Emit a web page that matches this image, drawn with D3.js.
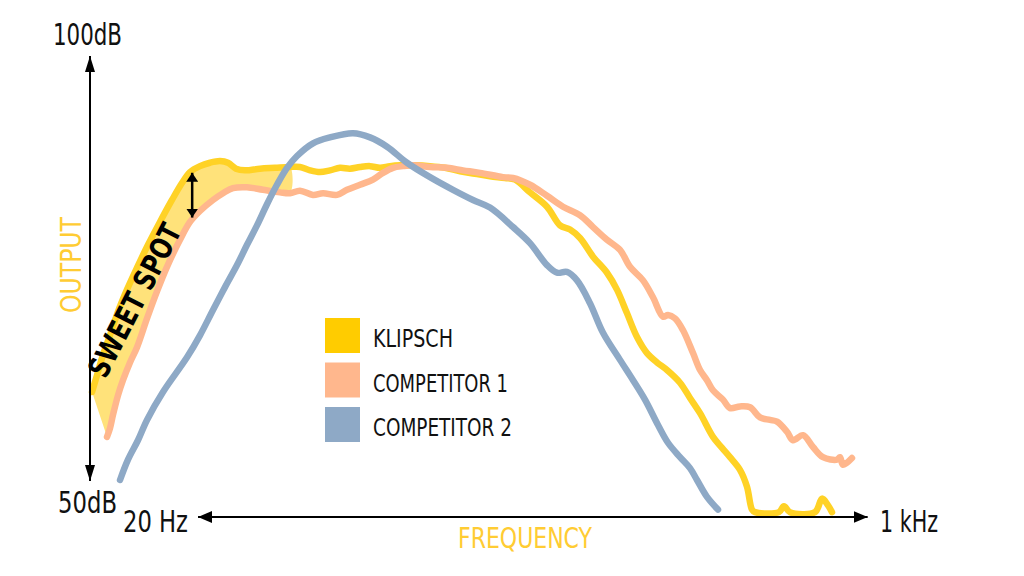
<!DOCTYPE html>
<html>
<head>
<meta charset="utf-8">
<script src="https://cdn.jsdelivr.net/npm/d3@7"></script>
<style>
  html, body { margin: 0; padding: 0; background: #ffffff; }
  svg { display: block; }
  text { font-family: 'Liberation Sans Narrow', 'DejaVu Sans Condensed', 'Roboto', sans-serif; }
</style>
</head>
<body>
<svg id="chart" width="1024" height="576"></svg>
<script>
// ---- Data (x = position across the 20 Hz – 1 kHz band, %; y = output, dB) ----
const seriesNames = ["KLIPSCH", "COMPETITOR 1", "COMPETITOR 2"];
const seriesColors = ["#FFD226", "#FFB78D", "#8EA9C6"];
const legendColors = ["#FFCC00", "#FFB78D", "#8EA9C6"];

const klipschPos = [0.26,0.90,1.67,2.56,3.59,4.74,6.03,7.44,8.97,10.51,11.79,12.82,14.10,15.38,16.67,17.69,18.72,19.87,21.79,23.72,25.64,26.92,28.21,29.49,30.77,32.05,33.33,34.62,35.90,37.18,38.46,39.74,41.67,43.59,45.51,47.44,49.36,51.28,53.21,54.49,56.41,58.59,60.26,61.54,62.82,64.49,66.28,67.56,68.85,70.13,71.41,72.69,73.97,75.64,76.92,78.21,79.87,81.03,82.05,83.33,84.23,84.87,85.26,88.33,88.97,89.74,92.95,93.85,94.62,95.13];
const klipschDb  = [60.4,62.4,64.8,67.1,69.9,72.5,75.1,77.8,80.5,83.1,85.1,86.4,87.1,87.5,87.7,87.5,86.8,86.6,86.8,86.9,87.0,87.0,86.6,86.4,86.6,86.9,86.8,87.0,87.1,86.9,87.1,87.2,87.2,87.1,86.9,86.5,86.2,85.9,85.7,85.5,84.0,82.3,80.1,79.6,78.6,76.4,74.5,72.5,69.7,66.9,65.0,63.9,63.0,61.5,59.7,57.9,55.1,53.8,52.7,51.2,49.2,46.5,46.2,46.2,46.9,46.2,46.2,47.8,47.0,46.2];

const comp1Pos = [2.18,2.56,2.95,3.59,4.23,5.13,6.03,7.31,8.59,9.87,11.54,12.82,14.10,15.77,17.05,18.33,20.13,22.18,24.36,25.64,26.92,28.59,29.87,31.67,32.95,34.62,36.28,37.56,38.85,40.13,41.41,43.59,45.77,47.82,50.00,52.95,54.23,56.41,58.59,60.64,62.82,64.49,66.28,67.95,69.23,70.90,72.18,73.46,74.10,75.00,76.03,77.31,78.21,79.10,79.87,81.15,82.05,83.33,84.62,85.90,87.18,88.08,89.36,90.13,91.41,92.69,93.97,95.77,96.15,96.54,97.69];
const comp1Db  = [55.1,56.1,57.7,60.0,61.8,63.9,65.7,69.1,72.3,75.2,78.4,80.5,81.8,83.1,83.9,84.5,84.6,84.3,84.0,83.9,84.2,83.7,83.9,83.7,84.3,84.9,85.5,86.3,86.9,87.1,87.2,87.0,86.9,86.6,86.3,85.8,85.7,84.9,83.6,82.3,81.3,79.9,78.4,77.2,75.2,73.6,71.6,69.3,69.5,69.1,67.7,65.0,63.0,61.8,60.6,59.5,58.5,58.7,58.6,57.4,57.1,56.9,55.7,54.7,55.3,53.9,52.7,52.4,52.7,51.8,52.6];

const comp2Pos = [3.85,4.87,6.15,7.31,9.36,12.44,14.10,15.77,17.31,18.85,20.13,21.41,22.69,23.97,25.26,26.54,28.59,30.77,33.72,35.90,38.08,40.64,43.59,46.54,49.10,51.28,54.23,56.41,58.59,59.87,61.15,62.44,64.10,65.77,67.95,69.62,71.15,72.82,74.10,75.64,76.92,77.82,79.10,80.51];
const comp2Db  = [50.0,52.4,54.7,57.1,60.4,64.5,67.1,70.1,72.8,75.4,77.8,80.1,82.6,84.9,86.9,88.3,89.8,90.5,91.0,90.5,89.4,87.5,85.8,84.3,83.1,82.2,79.9,78.0,75.4,74.5,74.6,73.6,70.9,67.4,64.2,61.8,59.5,56.5,54.4,52.7,51.4,50.0,48.0,46.5];

const yTickLabels = ["100dB", "50dB"];
const yTickValues = [100, 50];
const xTickLabels = ["20 Hz", "1 kHz"];
const axisTitles = ["OUTPUT", "FREQUENCY"];
const sweetSpotLabel = "SWEET SPOT";
const sweetSpotEnd = 25.64;   // fill between Klipsch and Competitor 1 up to this position
const sweetSpotArrowPos = 13.1;

// ---- Scales ----
const svg = d3.select("#chart");
const x = d3.scaleLinear().domain([0, 100]).range([90, 870]);
const y = d3.scaleLinear().domain([50, 100]).range([480, 57]);

const zip = (p, v) => p.map((d, i) => ({ x: d, y: v[i] }));
const series = [zip(klipschPos, klipschDb), zip(comp1Pos, comp1Db), zip(comp2Pos, comp2Db)];

const line = d3.line().x(d => x(d.x)).y(d => y(d.y)).curve(d3.curveCatmullRom.alpha(0.5));

// ---- Sweet-spot fill ----
const topPts = series[0].filter(d => d.x <= sweetSpotEnd);
const botPts = series[1].filter(d => d.x <= sweetSpotEnd).slice().reverse();
svg.append("path")
  .attr("d", line(topPts.concat(botPts)) + "Z")
  .attr("fill", "#FFE27A")
  .attr("stroke", "none");

// ---- Lines ----
series.forEach((s, i) => {
  svg.append("path")
    .attr("d", line(s))
    .attr("fill", "none")
    .attr("stroke", seriesColors[i])
    .attr("stroke-width", 6.5)
    .attr("stroke-linecap", "round")
    .attr("stroke-linejoin", "round");
});

// ---- Markers ----
const defs = svg.append("defs");
defs.append("marker").attr("id", "arrowY").attr("viewBox", "0 0 16 10")
  .attr("refX", 16).attr("refY", 5).attr("markerWidth", 16).attr("markerHeight", 10)
  .attr("markerUnits", "userSpaceOnUse").attr("orient", "auto-start-reverse")
  .append("path").attr("d", "M0,0 L16,5 L0,10 Z").attr("fill", "#000");
defs.append("marker").attr("id", "arrowX").attr("viewBox", "0 0 14 12")
  .attr("refX", 14).attr("refY", 6).attr("markerWidth", 14).attr("markerHeight", 12)
  .attr("markerUnits", "userSpaceOnUse").attr("orient", "auto-start-reverse")
  .append("path").attr("d", "M0,0 L14,6 L0,12 Z").attr("fill", "#000");
defs.append("marker").attr("id", "arrowS").attr("viewBox", "0 0 9 12")
  .attr("refX", 9).attr("refY", 6).attr("markerWidth", 9).attr("markerHeight", 12)
  .attr("markerUnits", "userSpaceOnUse").attr("orient", "auto-start-reverse")
  .append("path").attr("d", "M0,0 L9,6 L0,12 Z").attr("fill", "#000");

// ---- Y axis arrow ----
svg.append("line")
  .attr("x1", x(0)).attr("x2", x(0))
  .attr("y1", y(yTickValues[1]) + 1).attr("y2", y(yTickValues[0]) - 1)
  .attr("stroke", "#000").attr("stroke-width", 2)
  .attr("marker-start", "url(#arrowY)").attr("marker-end", "url(#arrowY)");

// ---- X axis arrow ----
const xAxisY = 517;
svg.append("line")
  .attr("x1", x(13.85)).attr("x2", x(99.7))
  .attr("y1", xAxisY).attr("y2", xAxisY)
  .attr("stroke", "#000").attr("stroke-width", 2)
  .attr("marker-start", "url(#arrowX)").attr("marker-end", "url(#arrowX)");

// ---- Tick labels ----
svg.append("text").text(yTickLabels[0])
  .attr("x", 53).attr("y", 45).attr("font-size", 30).attr("fill", "#111")
  .attr("textLength", 69).attr("lengthAdjust", "spacingAndGlyphs");
svg.append("text").text(yTickLabels[1])
  .attr("x", 58).attr("y", 513).attr("font-size", 30).attr("fill", "#111")
  .attr("textLength", 59).attr("lengthAdjust", "spacingAndGlyphs");
svg.append("text").text(xTickLabels[0])
  .attr("x", 123).attr("y", 532).attr("font-size", 30).attr("fill", "#111")
  .attr("textLength", 65).attr("lengthAdjust", "spacingAndGlyphs");
svg.append("text").text(xTickLabels[1])
  .attr("x", 880).attr("y", 532).attr("font-size", 30).attr("fill", "#111")
  .attr("textLength", 58).attr("lengthAdjust", "spacingAndGlyphs");

// ---- Axis titles ----
svg.append("text").text(axisTitles[0])
  .attr("transform", "translate(81,265) rotate(-90)")
  .attr("text-anchor", "middle").attr("font-size", 29).attr("fill", "#FFCC33")
  .attr("textLength", 96).attr("lengthAdjust", "spacingAndGlyphs");
svg.append("text").text(axisTitles[1])
  .attr("x", 525).attr("y", 548)
  .attr("text-anchor", "middle").attr("font-size", 29).attr("fill", "#FFCC33")
  .attr("textLength", 134).attr("lengthAdjust", "spacingAndGlyphs");

// ---- Sweet spot annotation ----
const interp = (s, p) => {
  for (let i = 1; i < s.length; i++) {
    if (s[i].x >= p) {
      const a = s[i - 1], b = s[i], t = (p - a.x) / (b.x - a.x);
      return a.y + t * (b.y - a.y);
    }
  }
  return s[s.length - 1].y;
};
svg.append("line")
  .attr("x1", x(sweetSpotArrowPos)).attr("x2", x(sweetSpotArrowPos))
  .attr("y1", y(interp(series[0], sweetSpotArrowPos)) + 2)
  .attr("y2", y(interp(series[1], sweetSpotArrowPos)) - 2)
  .attr("stroke", "#000").attr("stroke-width", 2.5)
  .attr("marker-start", "url(#arrowS)").attr("marker-end", "url(#arrowS)");

svg.append("text").text(sweetSpotLabel)
  .attr("transform", "translate(144,305) rotate(-62.8)")
  .attr("text-anchor", "middle").attr("font-size", 30).attr("font-weight", "bold")
  .attr("fill", "#000")
  .attr("textLength", 168).attr("lengthAdjust", "spacingAndGlyphs");

// ---- Legend ----
const legendLengths = [80, 135, 139];
const legend = svg.append("g").attr("transform", "translate(325,318)");
seriesNames.forEach((name, i) => {
  const g = legend.append("g").attr("transform", `translate(0,${i * 44.5})`);
  g.append("rect").attr("width", 35).attr("height", 35).attr("fill", legendColors[i]);
  g.append("text").text(name).attr("x", 48).attr("y", 29)
    .attr("font-size", 24).attr("fill", "#111")
    .attr("textLength", legendLengths[i]).attr("lengthAdjust", "spacingAndGlyphs");
});
</script>
</body>
</html>
